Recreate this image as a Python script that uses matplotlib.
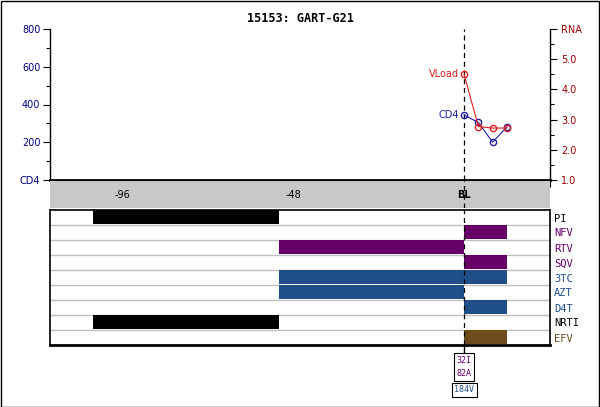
import numpy as np
import matplotlib
matplotlib.use("Agg")
import matplotlib.pyplot as plt
from matplotlib.patches import Rectangle
from matplotlib.lines import Line2D
from matplotlib.transforms import blended_transform_factory

# ---- data ----
title = "15153: GART-G21"
weeks = [0, 4, 8, 12]
cd4 = [344, 305, 200, 281]
vload = [4.5, 2.77, 2.72, 2.72]

drugs = ["PI", "NFV", "RTV", "SQV", "3TC", "AZT", "D4T", "NRTI", "EFV"]
drug_colors = ["#000000", "#660066", "#660066", "#660066", "#1f4e89",
               "#1f4e89", "#1f4e89", "#000000", "#6b4c1a"]
bar_drug = ["PI", "NRTI", "RTV", "3TC", "AZT", "NFV", "SQV", "3TC", "D4T", "EFV"]
bar_start = [-104, -104, -52, -52, -52, 0, 0, 0, 0, 0]
bar_end = [-52, -52, 0, 0, 0, 12, 12, 12, 12, 12]

mut_groups = ["32I\n82A", "184V"]
mut_colors = ["#660066", "#1f4e89"]

xlim = (-116.2, 24.1)
xtick_minor = np.arange(-108, 25, 12)
xlabels_at = [-96, -48, 0]
xlabels = ["-96", "-48", "BL"]

W, H = 600, 407
fig = plt.figure(figsize=(W / 100, H / 100), dpi=100)


def px_axes(l, t, r, b):
    return fig.add_axes([l / W, 1 - b / H, (r - l) / W, (b - t) / H])


navy = "#000080"
dred = "#990000"

# ---- top plot ----
ax = px_axes(50, 29, 550, 180)
ax.set_xlim(*xlim)
ax.set_ylim(0, 800)
ax.set_yticks([0, 200, 400, 600, 800])
ax.set_yticklabels(["CD4", "200", "400", "600", "800"])
ax.set_yticks(np.arange(100, 800, 200), minor=True)
ax.tick_params(axis="y", colors="black", labelcolor=navy, labelsize=7,
               length=5, width=0.8, pad=2)
ax.tick_params(axis="y", which="minor", length=3, width=0.8)
ax.set_xticks(xtick_minor)
ax.set_xticklabels([])
ax.tick_params(axis="x", length=5, width=0.8, direction="out")
for s in ["top", "right"]:
    ax.spines[s].set_visible(False)
ax.spines["left"].set_linewidth(1.0)
ax.spines["bottom"].set_linewidth(2.0)

ax.axvline(0, color="black", ls=(0, (4, 3)), lw=0.9)
ax.plot(weeks, cd4, color="#2020a0", lw=0.8, marker="o", ms=4.5,
        mfc="none", mec="#2020a0", mew=1.0, zorder=4)
ax.text(-1.5, cd4[0], "CD4", color="#2020a0", fontsize=7, ha="right", va="center")

ax2 = ax.twinx()
ax2.set_xlim(*xlim)
ax2.set_ylim(1, 6)
ax2.set_yticks([1, 2, 3, 4, 5, 6])
ax2.set_yticklabels(["1.0", "2.0", "3.0", "4.0", "5.0", "RNA"])
ax2.set_yticks(np.arange(1.5, 6, 1), minor=True)
ax2.tick_params(axis="y", colors="black", labelcolor=dred, labelsize=7,
                length=5, width=0.8, pad=3)
ax2.tick_params(axis="y", which="minor", length=3, width=0.8)
for s in ["top", "left", "bottom"]:
    ax2.spines[s].set_visible(False)
ax2.spines["right"].set_linewidth(1.0)
ax2.plot(weeks, vload, color="#dd2020", lw=0.8, marker="o", ms=4.5,
         mfc="none", mec="#dd2020", mew=1.0, zorder=3)
ax2.text(-1.5, vload[0], "VLoad", color="#dd2020", fontsize=7, ha="right", va="center")

fig.text(300 / W, 1 - 19 / H, title, ha="center", va="center", fontsize=8.5,
         fontweight="bold", family="DejaVu Sans Mono")

# ---- gray band with x labels ----
band = px_axes(50, 181, 550, 208)
band.set_facecolor("#c8c8c8")
band.set_xlim(*xlim)
band.set_ylim(0, 1)
band.set_xticks([])
band.set_yticks([])
for s in band.spines.values():
    s.set_visible(False)
band.axvline(0, color="black", ls=(0, (4, 3)), lw=0.9)
for xv, lab in zip(xlabels_at, xlabels):
    band.text(xv, 0.48, lab, ha="center", va="center", fontsize=7,
              fontweight="bold" if lab == "BL" else "normal")

# ---- drug panel ----
axd = px_axes(50, 210, 550, 345)
axd.set_xlim(*xlim)
axd.set_ylim(len(drugs), 0)
for i in range(1, len(drugs)):
    axd.axhline(i, color="#c0c0c0", lw=1.0, zorder=1)
for d, s0, s1 in zip(bar_drug, bar_start, bar_end):
    i = drugs.index(d)
    axd.barh(i, s1 - s0, left=s0, height=0.9, align="edge",
             color=drug_colors[i], zorder=2)
axd.axvline(0, color="black", ls=(0, (4, 3)), lw=0.9, zorder=3)
axd.set_xticks([])
axd.yaxis.tick_right()
axd.set_yticks(np.arange(len(drugs)) + 0.5)
axd.set_yticklabels(drugs, family="DejaVu Sans Mono", fontsize=7.5)
for tl, c in zip(axd.get_yticklabels(), drug_colors):
    tl.set_color(c)
axd.tick_params(axis="y", length=0, pad=3)
for s in axd.spines.values():
    s.set_linewidth(1.2)
axd.spines["bottom"].set_linewidth(2.0)

# ---- mutation boxes ----
tr = blended_transform_factory(axd.transData, fig.transFigure)
fig.add_artist(Line2D([0, 0], [1 - 345 / H, 1 - 354 / H], color="black",
                      lw=1.0, transform=tr))
box_y = [367, 390]
for txt, c, yy in zip(mut_groups, mut_colors, box_y):
    fig.text(0, 1 - yy / H, txt, transform=tr, ha="center", va="center",
             color=c, fontsize=6, family="DejaVu Sans Mono", linespacing=1.6,
             bbox=dict(boxstyle="square,pad=0.3", fc="white", ec="black", lw=0.8))

# outer border
fig.add_artist(Rectangle((0.5 / W, 0.5 / H), 1 - 1.5 / W, 1 - 1.5 / H,
                         transform=fig.transFigure, fill=False, ec="black", lw=1.0))

fig.savefig("out.png", dpi=100, facecolor="white")
